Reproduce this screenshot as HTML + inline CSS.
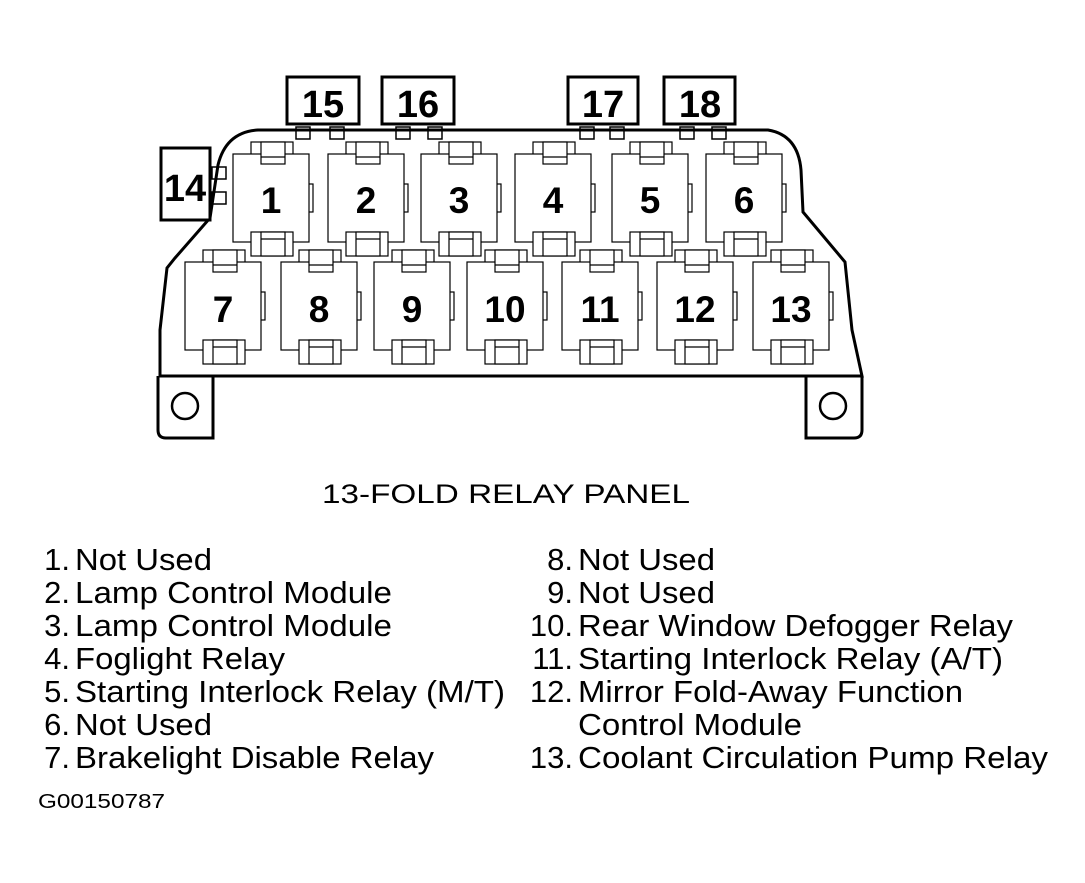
<!DOCTYPE html>
<html><head><meta charset="utf-8"><style>
html,body{margin:0;padding:0;background:#fff;}
svg{display:block;}
text{font-family:"Liberation Sans",Arial,sans-serif;fill:#000;}
</style></head><body>
<svg width="1085" height="883" viewBox="0 0 1085 883" xmlns="http://www.w3.org/2000/svg">
<g fill="none" stroke="#000">
<path d="M160,376 L160,330 L167,268 L175,258 L210,218 L218,165 Q226,132 258,130 L768,130 Q798,135 801,170 L803,212 L845,262 L852,330 L862,376 Z" stroke-width="3" fill="#fff"/>
<path d="M158,376 L158,430 Q158,438 166,438 L213,438 L213,376" stroke-width="3"/>
<path d="M806,376 L806,438 L854,438 Q862,438 862,430 L862,376" stroke-width="3"/>
<circle cx="185" cy="406" r="13" stroke-width="2.5"/>
<circle cx="833" cy="406" r="13" stroke-width="2.5"/>
<g stroke-width="1.5">
<rect x="296" y="127" width="14" height="12"/><rect x="330" y="127" width="14" height="12"/>
<rect x="396" y="127" width="14" height="12"/><rect x="428" y="127" width="14" height="12"/>
<rect x="580" y="127" width="14" height="12"/><rect x="610" y="127" width="14" height="12"/>
<rect x="680" y="127" width="14" height="12"/><rect x="712" y="127" width="14" height="12"/>
<rect x="212" y="167" width="14" height="12"/><rect x="212" y="192" width="14" height="12"/>
</g>
</g>
<g fill="#fff" stroke="#000" stroke-width="1.2" id="relays"></g>
<g font-weight="bold" font-size="37" text-anchor="middle">
<text x="271" y="213">1</text><text x="366" y="213">2</text><text x="459" y="213">3</text>
<text x="553" y="213">4</text><text x="650" y="213">5</text><text x="744" y="213">6</text>
<text x="223" y="322">7</text><text x="319" y="322">8</text><text x="412" y="322">9</text>
<text x="505" y="322">10</text><text x="600" y="322">11</text><text x="695" y="322">12</text><text x="791" y="322">13</text>
</g>
<g fill="#fff" stroke="#000" stroke-width="3">
<rect x="287" y="77" width="72" height="47"/>
<rect x="382" y="77" width="72" height="47"/>
<rect x="568" y="77" width="70" height="47"/>
<rect x="664" y="77" width="71" height="47"/>
<rect x="161" y="148" width="49" height="72"/>
</g>
<g font-weight="bold" font-size="38" text-anchor="middle">
<text x="323" y="117">15</text><text x="418" y="117">16</text>
<text x="603" y="117">17</text><text x="700" y="117">18</text>
<text x="185" y="201">14</text>
</g>
<text x="322" y="503" font-size="27" textLength="368" lengthAdjust="spacingAndGlyphs">13-FOLD RELAY PANEL</text>
<g font-size="31">
<g text-anchor="end">
<text x="70" y="570">1.</text><text x="70" y="603">2.</text><text x="70" y="636">3.</text><text x="70" y="669">4.</text><text x="70" y="702">5.</text><text x="70" y="735">6.</text><text x="70" y="768">7.</text>
<text x="573" y="570">8.</text><text x="573" y="603">9.</text><text x="573" y="636">10.</text><text x="573" y="669">11.</text><text x="573" y="702">12.</text><text x="573" y="768">13.</text>
</g>
<text x="75" y="570" textLength="137" lengthAdjust="spacingAndGlyphs">Not Used</text>
<text x="75" y="603" textLength="317" lengthAdjust="spacingAndGlyphs">Lamp Control Module</text>
<text x="75" y="636" textLength="317" lengthAdjust="spacingAndGlyphs">Lamp Control Module</text>
<text x="75" y="669" textLength="210" lengthAdjust="spacingAndGlyphs">Foglight Relay</text>
<text x="75" y="702" textLength="430" lengthAdjust="spacingAndGlyphs">Starting Interlock Relay (M/T)</text>
<text x="75" y="735" textLength="137" lengthAdjust="spacingAndGlyphs">Not Used</text>
<text x="75" y="768" textLength="359" lengthAdjust="spacingAndGlyphs">Brakelight Disable Relay</text>
<text x="578" y="570" textLength="137" lengthAdjust="spacingAndGlyphs">Not Used</text>
<text x="578" y="603" textLength="137" lengthAdjust="spacingAndGlyphs">Not Used</text>
<text x="578" y="636" textLength="435" lengthAdjust="spacingAndGlyphs">Rear Window Defogger Relay</text>
<text x="578" y="669" textLength="425" lengthAdjust="spacingAndGlyphs">Starting Interlock Relay (A/T)</text>
<text x="578" y="702" textLength="385" lengthAdjust="spacingAndGlyphs">Mirror Fold-Away Function</text>
<text x="578" y="735" textLength="224" lengthAdjust="spacingAndGlyphs">Control Module</text>
<text x="578" y="768" textLength="470" lengthAdjust="spacingAndGlyphs">Coolant Circulation Pump Relay</text>
</g>
<text x="38" y="808" font-size="20" textLength="127" lengthAdjust="spacingAndGlyphs">G00150787</text>
</svg>
<script>
(function(){
var g=document.getElementById('relays'),ns='http://www.w3.org/2000/svg';
function r(x,y,w,h){var e=document.createElementNS(ns,'rect');e.setAttribute('x',x);e.setAttribute('y',y);e.setAttribute('width',w);e.setAttribute('height',h);g.appendChild(e);}
function l(x1,y1,x2,y2){var e=document.createElementNS(ns,'line');e.setAttribute('x1',x1);e.setAttribute('y1',y1);e.setAttribute('x2',x2);e.setAttribute('y2',y2);g.appendChild(e);}
function relay(x,y){var w=76,h=88;
 r(x+w-2,y+30,6,28);
 r(x+18,y-12,42,22);r(x,y,w,h);
 r(x+18,y+h-10,42,24);
 r(x+28,y-12,24,22);l(x+28,y+3,x+52,y+3);
 r(x+28,y+h-10,24,24);l(x+28,y+h-3,x+52,y+h-3);
}
[233,328,421,515,612,706].forEach(function(x){relay(x,154);});
[185,281,374,467,562,657,753].forEach(function(x){relay(x,262);});
})();
</script>
</body></html>
